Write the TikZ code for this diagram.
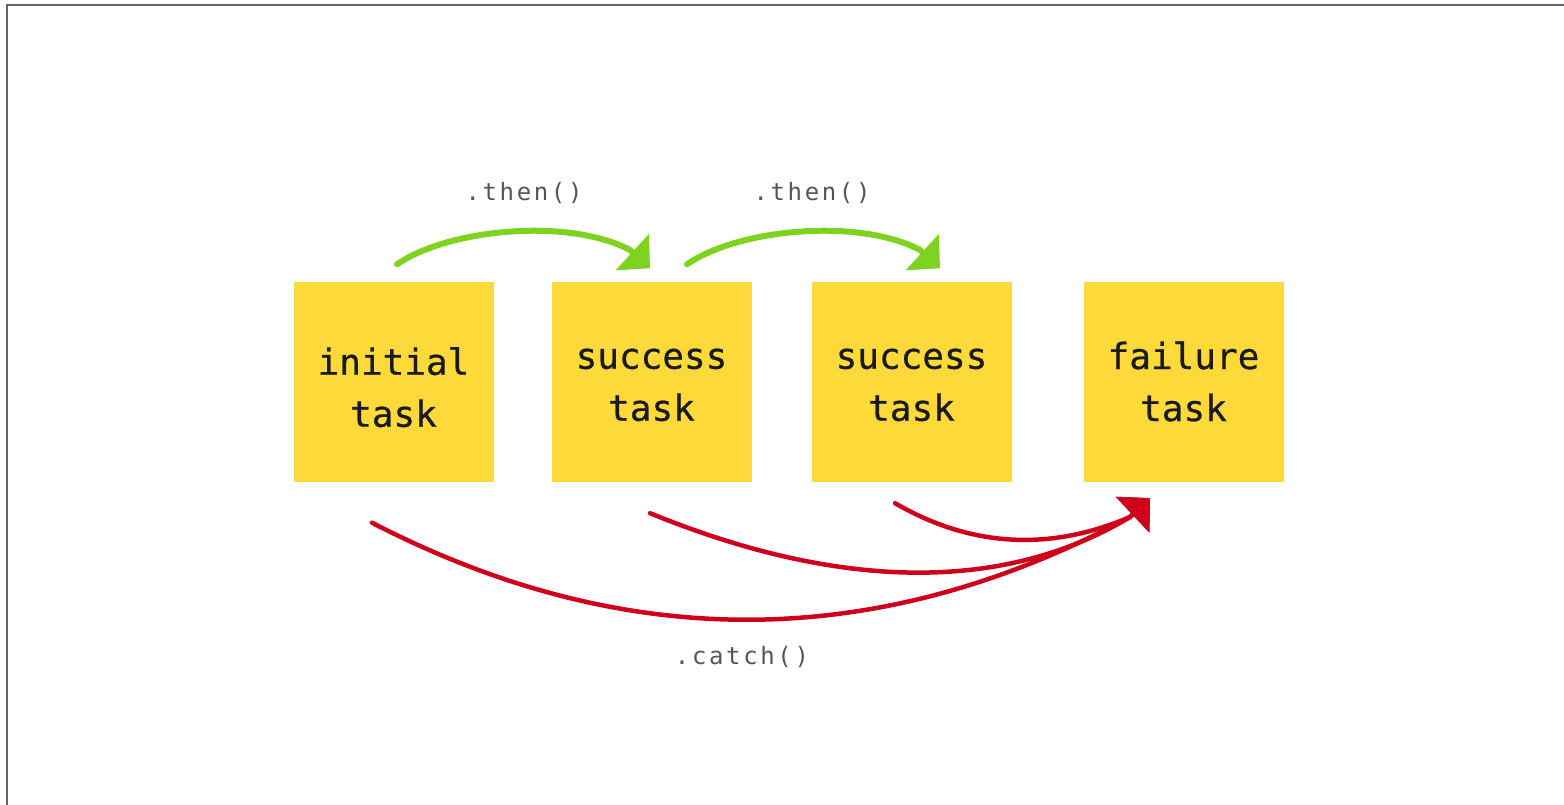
\documentclass[tikz,border=0pt]{standalone}
\usepackage{fontspec}
\newfontfamily\monofont[BoldFont={DejaVu Sans Mono},BoldFeatures={FakeBold=0.6}]{DejaVu Sans Mono}
\newfontfamily\labelfont[LetterSpace=11]{DejaVu Sans Mono}
\usetikzlibrary{arrows.meta}
\definecolor{boxyellow}{HTML}{FED93A}
\definecolor{thengreen}{HTML}{7ED321}
\definecolor{catchred}{HTML}{D0021B}
\definecolor{labelgray}{HTML}{555555}
\definecolor{framegray}{HTML}{666666}
\definecolor{inkblack}{HTML}{1A1A1A}
\newcommand\linestrut[1]{\rule{0pt}{#1}}
\begin{document}
\begin{tikzpicture}[x=1pt,y=-1pt,
  taskbox/.style={fill=boxyellow, draw=none, minimum width=200pt, minimum height=200pt,
    inner sep=0pt, align=center, font=\monofont\bfseries\fontsize{36}{52}\selectfont, text=inkblack},
  codelabel/.style={font=\labelfont\fontsize{24}{28}\selectfont, text=labelgray, inner sep=0pt},
  thenarrow/.style={draw=thengreen, line width=6pt, line cap=round,
    -{Triangle[length=24pt,width=48pt]}},
  catcharrow/.style={draw=catchred, line width=4.5pt, line cap=round,
    -{Triangle[length=24pt,width=48pt]}},
]
\useasboundingbox (0,0) rectangle (1564,805);
\draw[framegray, line width=2pt] (6.5,805) -- (6.5,5.5) -- (1564,5.5);

\node[taskbox] (t1) at (393.5,381.5) {\linestrut{39pt}initial\\task};
\node[taskbox] (t2) at (651.5,381.5) {\linestrut{27pt}success\\task};
\node[taskbox] (t3) at (911.5,381.5) {\linestrut{27pt}success\\task};
\node[taskbox] (t4) at (1183.5,381.5) {\linestrut{27pt}failure\\task};

\node[codelabel] (then1) at (524,193) {.then()};
\node[codelabel] (then2) at (812,193) {.then()};
\node[codelabel] (catch) at (742,657) {.catch()};

\draw[thenarrow] ([shift={(3.5pt,17pt)}]t1.north) .. controls (450,228) and (570,218) .. (630,250)
  -- ([shift={(-1.5pt,13pt)}]t2.north);
\draw[thenarrow] ([shift={(35.5pt,17pt)}]t2.north) .. controls (740,228) and (860,218) .. (920,250)
  -- ([shift={(28.5pt,13pt)}]t3.north);

\draw[catcharrow] ([shift={(-21.5pt,-41pt)}]t1.south) .. controls (626,654) and (879,652) .. (1130,517)
  -- ([shift={(-33.5pt,-16.5pt)}]t4.south);
\draw[catcharrow] ([shift={(-1.5pt,-31.5pt)}]t2.south) .. controls (760,558) and (960,619) .. (1130,517)
  -- ([shift={(-33.5pt,-16.5pt)}]t4.south);
\draw[catcharrow] ([shift={(-16.5pt,-21.5pt)}]t3.south) .. controls (950,535) and (1030,560) .. (1130,517)
  -- ([shift={(-33.5pt,-16.5pt)}]t4.south);
\end{tikzpicture}
\end{document}
